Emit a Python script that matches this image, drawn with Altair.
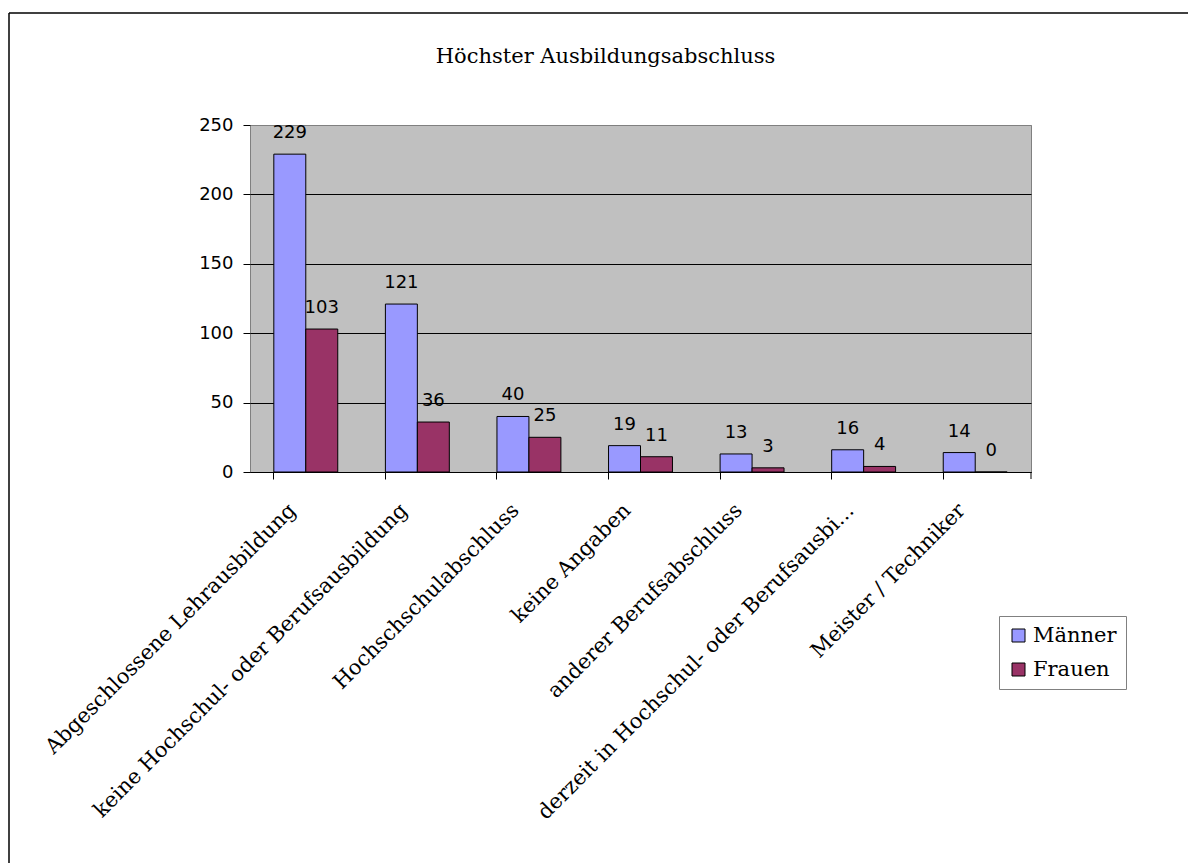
import altair as alt
import pandas as pd

# Höchster Ausbildungsabschluss, nach Geschlecht
categories = [
    "Abgeschlossene Lehrausbildung",
    "keine Hochschul- oder Berufsausbildung",
    "Hochschschulabschluss",
    "keine Angaben",
    "anderer Berufsabschluss",
    "derzeit in Hochschul- oder Berufsausbi...",
    "Meister / Techniker",
]
maenner = [229, 121, 40, 19, 13, 16, 14]
frauen = [103, 36, 25, 11, 3, 4, 0]
series = ["Männer", "Frauen"]
colors = ["#9999FF", "#993366"]
y_ticks = [0, 50, 100, 150, 200, 250]

rows = []
for cat, m, f in zip(categories, maenner, frauen):
    rows.append({"Kategorie": cat, "Geschlecht": "Männer", "Wert": m})
    rows.append({"Kategorie": cat, "Geschlecht": "Frauen", "Wert": f})
df = pd.DataFrame(rows)

W, H = 781, 347
SERIF = "DejaVu Serif"
SANS = "DejaVu Sans"

x_enc = alt.X(
    "Kategorie:N",
    sort=categories,
    scale=alt.Scale(paddingInner=0.427, paddingOuter=0.2135),
    axis=alt.Axis(
        title=None,
        labelAngle=-45,
        labelAlign="right",
        labelBaseline="middle",
        labelFont=SERIF,
        labelFontSize=21,
        labelColor="black",
        labelLimit=700,
        labelPadding=28,
        labelOffset=-13,
        bandPosition=0,
        tickColor="black",
        tickSize=7,
        domainColor="black",
        grid=False,
    ),
)
xoff_enc = alt.XOffset(
    "Geschlecht:N", sort=series, scale=alt.Scale(paddingInner=0, paddingOuter=0)
)
y_enc = alt.Y(
    "Wert:Q",
    scale=alt.Scale(domain=[0, 250], nice=False),
    axis=alt.Axis(
        title=None,
        values=y_ticks,
        labelFont=SANS,
        labelFontSize=18,
        labelColor="black",
        labelPadding=10,
        tickColor="black",
        tickSize=7,
        domain=False,
        # the top line belongs to the grey plot border
        gridColor={
            "condition": {"test": "datum.value === 250", "value": "#808080"},
            "value": "black",
        },
        gridWidth=1,
    ),
)

bars = alt.Chart(df).mark_bar(stroke="black", strokeWidth=1).encode(
    x=x_enc,
    xOffset=xoff_enc,
    y=y_enc,
    color=alt.Color(
        "Geschlecht:N",
        scale=alt.Scale(domain=series, range=colors),
        legend=alt.Legend(
            title=None,
            orient="none",
            legendX=749,
            legendY=491,
            strokeColor="#808080",
            fillColor="white",
            padding=9,
            symbolType="square",
            symbolSize=169,
            symbolStrokeColor="black",
            symbolStrokeWidth=1,
            symbolOpacity=1,
            labelFont=SERIF,
            labelFontSize=21,
            labelColor="black",
            rowPadding=12,
        ),
    ),
)

values = alt.Chart(df).mark_text(
    font=SANS, fontSize=18, baseline="alphabetic", dy=-16, color="black"
).encode(x=x_enc, xOffset=xoff_enc, y=y_enc, text="Wert:Q")

one = pd.DataFrame({"k": [0]})
# closing tick at the right end of the category axis
end_tick = alt.Chart(one).mark_rule(color="black").encode(
    x=alt.value(W), y=alt.value(H), y2=alt.value(H + 7)
)
# outer frame of the chart area (top and left edges)
frame_top = alt.Chart(one).mark_rule(color="black", strokeWidth=1.5).encode(
    x=alt.value(-241), x2=alt.value(1000), y=alt.value(-112)
)
frame_left = alt.Chart(one).mark_rule(color="black", strokeWidth=1.5).encode(
    x=alt.value(-241), y=alt.value(-112), y2=alt.value(800)
)

chart = (
    alt.layer(bars, values, end_tick, frame_top, frame_left)
    .properties(
        width=W,
        height=H,
        title=alt.TitleParams(
            "Höchster Ausbildungsabschluss",
            font=SERIF,
            fontSize=21,
            fontWeight="normal",
            color="black",
            anchor="middle",
            dx=-35,
            offset=-55,
        ),
        autosize=alt.AutoSizeParams(type="none"),
        padding={"left": 250, "top": 125, "right": 157, "bottom": 391},
    )
    .configure(background="white")
    .configure_view(fill="#C0C0C0", stroke="#808080", strokeWidth=1)
)

chart.save("out.html", embed_options={"renderer": "svg", "actions": False})
